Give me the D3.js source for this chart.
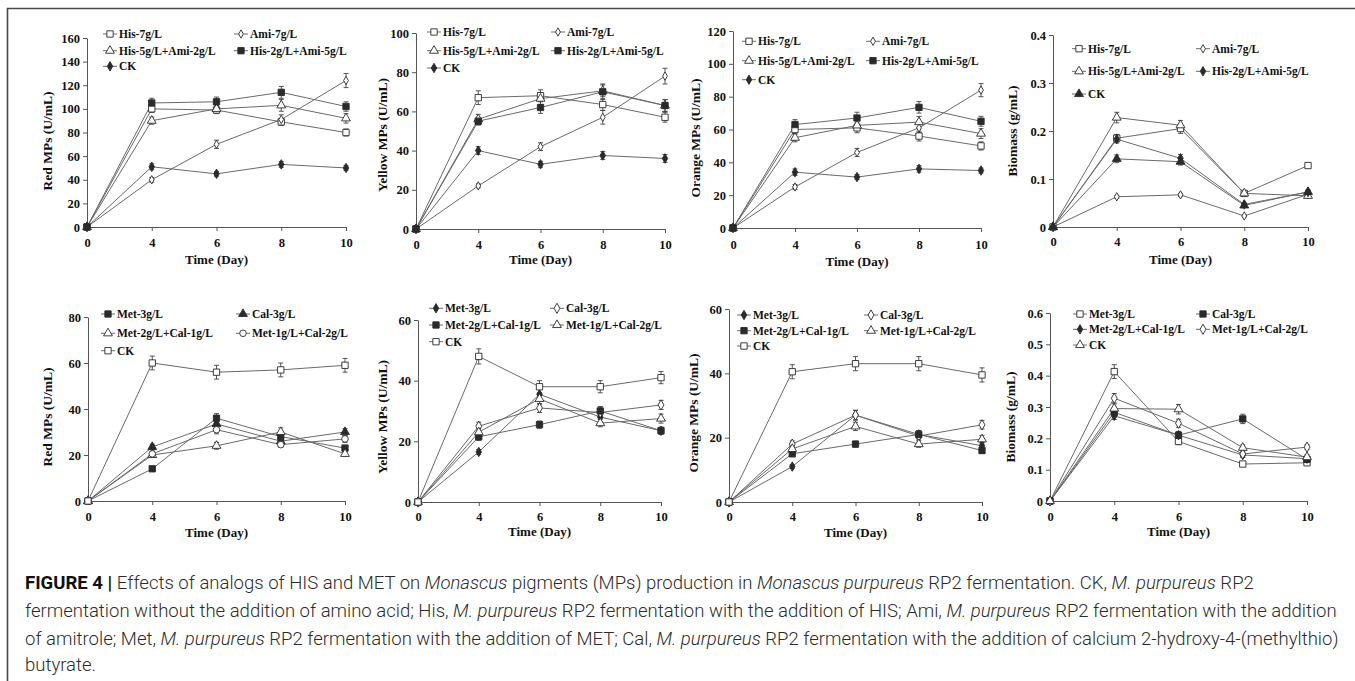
<!DOCTYPE html>
<html>
<head>
<meta charset="utf-8">
<script src="https://cdn.jsdelivr.net/npm/d3@7"></script>
<style>
  html, body { margin: 0; padding: 0; background: #fff; }
  svg { display: block; }
</style>
</head>
<body>
<svg id="fig" width="1355" height="681"></svg>
<script>
// ---------- data ----------
const days = ["0", "4", "6", "8", "10"];

const hisAmiNames = ["His-7g/L", "Ami-7g/L", "His-5g/L+Ami-2g/L", "His-2g/L+Ami-5g/L", "CK"];
const metCalNames = ["Met-3g/L", "Cal-3g/L", "Met-2g/L+Cal-1g/L", "Met-1g/L+Cal-2g/L", "CK"];

// Red MPs (U/mL), His / Ami treatments
const redHisAmi = [
  [0, 100, 99, 89, 80],
  [0, 40, 70, 91, 124],
  [0, 90, 100, 103, 92],
  [0, 105, 106, 114, 102],
  [0, 51, 45, 53, 50]
];
const redHisAmiErr = [
  [0, 3, 3, 3, 3],
  [0, 2, 3.5, 4, 6],
  [0, 3, 3, 5, 4],
  [0, 4, 4, 5, 4],
  [0, 2.5, 2, 2.5, 2]
];

// Yellow MPs (U/mL), His / Ami treatments
const yellowHisAmi = [
  [0, 67, 68, 63.5, 57],
  [0, 22, 42, 57, 78],
  [0, 56, 66.5, 70.5, 63],
  [0, 55, 62, 70, 63],
  [0, 40, 33, 37.5, 36]
];
const yellowHisAmiErr = [
  [0, 3.5, 3, 3, 2.5],
  [0, 1, 2, 3.5, 4],
  [0, 2.5, 3, 3, 3],
  [0, 2, 3, 4, 3],
  [0, 2, 1.5, 2, 2]
];

// Orange MPs (U/mL), His / Ami treatments
const orangeHisAmi = [
  [0, 60, 61, 56, 50],
  [0, 25, 46, 61, 84],
  [0, 55, 62.5, 64.5, 57.5],
  [0, 63, 67, 73.5, 65],
  [0, 34, 31, 36, 35]
];
const orangeHisAmiErr = [
  [0, 3, 3, 3, 2.5],
  [0, 1.5, 2.5, 3, 4],
  [0, 2.5, 3, 3.5, 3],
  [0, 3, 3.5, 3.5, 3],
  [0, 2, 1.5, 2, 1.5]
];

// Biomass (g/mL), His / Ami treatments
const biomassHisAmi = [
  [0, 0.185, 0.205, 0.07, 0.128],
  [0, 0.063, 0.067, 0.023, 0.068],
  [0, 0.228, 0.212, 0.07, 0.065],
  [0, 0.183, 0.143, 0.047, 0.073],
  [0, 0.142, 0.136, 0.045, 0.073]
];
const biomassHisAmiErr = [
  [0, 0.008, 0.01, 0.004, 0.005],
  [0, 0.003, 0.003, 0.002, 0.003],
  [0, 0.011, 0.01, 0.004, 0.004],
  [0, 0.008, 0.008, 0.003, 0.004],
  [0, 0.008, 0.007, 0.003, 0.004]
];

// Red MPs (U/mL), Met / Cal treatments
const redMetCal = [
  [0, 14, 36, 28, 23],
  [0, 23.5, 33.5, 26, 30],
  [0, 20, 24, 30, 20.5],
  [0, 20.5, 31, 24.5, 27],
  [0, 60, 56, 57, 59]
];
const redMetCalErr = [
  [0, 0.8, 2, 1.5, 1.2],
  [0, 1.2, 2, 1.5, 1.5],
  [0, 1, 1.5, 1.8, 1],
  [0, 1.2, 1.8, 1.2, 1.5],
  [0, 3, 3, 3, 3]
];

// Yellow MPs (U/mL), Met / Cal treatments
const yellowMetCal = [
  [0, 16.5, 35.5, 28, 23.5],
  [0, 25, 31, 29.5, 32],
  [0, 21.5, 25.5, 30, 23.5],
  [0, 23, 34, 26, 27.5],
  [0, 48, 38, 38, 41]
];
const yellowMetCalErr = [
  [0, 0.8, 1.8, 1.5, 1],
  [0, 1.3, 1.5, 1.8, 1.5],
  [0, 1.2, 1.2, 1.5, 1.2],
  [0, 1.2, 1.8, 1.2, 1.5],
  [0, 2.5, 2, 2, 2]
];

// Orange MPs (U/mL), Met / Cal treatments
const orangeMetCal = [
  [0, 11, 27, 21, 17.5],
  [0, 18, 27, 20.5, 24],
  [0, 15, 18, 21, 16],
  [0, 16.5, 23.5, 18, 19.5],
  [0, 40.5, 43, 43, 39.5]
];
const orangeMetCalErr = [
  [0, 0.6, 1.5, 1.2, 1],
  [0, 1, 1.5, 1.2, 1.3],
  [0, 0.9, 0.9, 1.2, 0.9],
  [0, 1, 1.3, 1, 1.2],
  [0, 2.2, 2.2, 2.2, 2.2]
];

// Biomass (g/mL), Met / Cal treatments
const biomassMetCal = [
  [0, 0.413, 0.19, 0.118, 0.122],
  [0, 0.283, 0.21, 0.262, 0.133],
  [0, 0.272, 0.21, 0.147, 0.135],
  [0, 0.328, 0.248, 0.15, 0.172],
  [0, 0.295, 0.293, 0.17, 0.14]
];
const biomassMetCalErr = [
  [0, 0.022, 0.01, 0.006, 0.006],
  [0, 0.015, 0.012, 0.015, 0.008],
  [0, 0.012, 0.01, 0.008, 0.007],
  [0, 0.015, 0.013, 0.009, 0.008],
  [0, 0.015, 0.015, 0.009, 0.008]
];

// ---------- panel layout ----------
const fmtInt = d3.format("d");
const fmtDec = v => (v === 0 ? "0" : d3.format(".1f")(v));

const panels = [
  { values: redHisAmi, errors: redHisAmiErr, names: hisAmiNames,
    marks: ["sqOpen", "diaOpenSmall", "triOpen", "sqFill", "diaFill"],
    yMax: 160, yStep: 20, fmt: fmtInt, yTitle: "Red MPs (U/mL)",
    x0: 87, x1: 346, yTop: 38, yBot: 227, tickY: 242, titleY: 259, yTitleX: 47, yTitleY: 141,
    leg: { c1: 110, c2: 241, rows: [34, 50.7, 66.3] } },
  { values: yellowHisAmi, errors: yellowHisAmiErr, names: hisAmiNames,
    marks: ["sqOpen", "diaOpenSmall", "triOpen", "sqFill", "diaFill"],
    yMax: 100, yStep: 20, fmt: fmtInt, yTitle: "Yellow MPs (U/mL)",
    x0: 416, x1: 665, yTop: 33, yBot: 229, tickY: 244, titleY: 259, yTitleX: 382, yTitleY: 135,
    leg: { c1: 434, c2: 558, rows: [32, 50.7, 68] } },
  { values: orangeHisAmi, errors: orangeHisAmiErr, names: hisAmiNames,
    marks: ["sqOpen", "diaOpenSmall", "triOpen", "sqFill", "diaFill"],
    yMax: 120, yStep: 20, fmt: fmtInt, yTitle: "Orange MPs (U/mL)",
    x0: 733, x1: 981, yTop: 31, yBot: 228, tickY: 244, titleY: 261, yTitleX: 695, yTitleY: 138,
    leg: { c1: 749, c2: 873, rows: [41.3, 60.7, 79.7] } },
  { values: biomassHisAmi, errors: biomassHisAmiErr, names: hisAmiNames,
    marks: ["sqOpen", "diaOpenSmall", "triOpen", "diaFill", "triFill"],
    yMax: 0.4, yStep: 0.1, fmt: fmtDec, yTitle: "Biomass (g/mL)",
    x0: 1053, x1: 1308, yTop: 35, yBot: 227, tickY: 241, titleY: 259, yTitleX: 1012, yTitleY: 131,
    leg: { c1: 1079, c2: 1203, rows: [48.7, 71.3, 94] } },
  { values: redMetCal, errors: redMetCalErr, names: metCalNames,
    marks: ["sqFill", "triFill", "triOpen", "circOpen", "sqOpen"],
    yMax: 80, yStep: 20, fmt: fmtInt, yTitle: "Red MPs (U/mL)",
    x0: 88, x1: 345, yTop: 317, yBot: 501, tickY: 516, titleY: 532, yTitleX: 47, yTitleY: 417,
    leg: { c1: 108, c2: 243, rows: [314, 333.3, 350.7] } },
  { values: yellowMetCal, errors: yellowMetCalErr, names: metCalNames,
    marks: ["diaFill", "diaOpen", "sqFill", "triOpen", "sqOpen"],
    yMax: 60, yStep: 20, fmt: fmtInt, yTitle: "Yellow MPs (U/mL)",
    x0: 418, x1: 661, yTop: 320, yBot: 502, tickY: 516, titleY: 531, yTitleX: 382, yTitleY: 417,
    leg: { c1: 436, c2: 557, rows: [308.3, 325, 341.7] } },
  { values: orangeMetCal, errors: orangeMetCalErr, names: metCalNames,
    marks: ["diaFill", "diaOpen", "sqFill", "triOpen", "sqOpen"],
    yMax: 60, yStep: 20, fmt: fmtInt, yTitle: "Orange MPs (U/mL)",
    x0: 729, x1: 982, yTop: 309, yBot: 502, tickY: 516, titleY: 532, yTitleX: 693, yTitleY: 413,
    leg: { c1: 744, c2: 871, rows: [315, 330.7, 346] } },
  { values: biomassMetCal, errors: biomassMetCalErr, names: metCalNames,
    marks: ["sqOpen", "sqFill", "diaFill", "diaOpen", "triOpen"],
    yMax: 0.6, yStep: 0.1, fmt: fmtDec, yTitle: "Biomass (g/mL)",
    x0: 1050, x1: 1307, yTop: 313, yBot: 501, tickY: 516, titleY: 531, yTitleX: 1010, yTitleY: 417,
    leg: { c1: 1080, c2: 1203, rows: [314, 329.3, 345] } }
];

// ---------- styles ----------
const serif = "'Liberation Serif', 'Times New Roman', serif";
const lineColor = "#6a6a6a";
const markColor = "#2a2a2a";
const axisColor = "#555";

const markerDefs = {
  sqOpen:       { type: d3.symbolSquare,   size: 40, fill: "#fff" },
  sqFill:       { type: d3.symbolSquare,   size: 40, fill: markColor },
  diaOpen:      { type: d3.symbolDiamond,  size: 30, fill: "#fff" },
  diaOpenSmall: { type: d3.symbolDiamond,  size: 20, fill: "#fff" },
  diaFill:      { type: d3.symbolDiamond,  size: 26, fill: markColor },
  triOpen:      { type: d3.symbolTriangle, size: 34, fill: "#fff" },
  triFill:      { type: d3.symbolTriangle, size: 34, fill: markColor },
  circOpen:     { type: d3.symbolCircle,   size: 34, fill: "#fff" }
};

const svg = d3.select("#fig");

// frame of the figure block
svg.append("path")
  .attr("d", "M1355,8.5H7.5V681")
  .attr("fill", "none")
  .attr("stroke", "#4a4a4a")
  .attr("stroke-width", 1.6);

function drawMarker(g, key, x, y) {
  const m = markerDefs[key];
  g.append("path")
    .attr("d", d3.symbol().type(m.type).size(m.size)())
    .attr("transform", `translate(${x},${y})`)
    .attr("fill", m.fill)
    .attr("stroke", markColor)
    .attr("stroke-width", 0.9);
}

panels.forEach(p => {
  const g = svg.append("g");
  const x = d3.scalePoint().domain(days).range([p.x0, p.x1]);
  const y = d3.scaleLinear().domain([0, p.yMax]).range([p.yBot, p.yTop]);
  const ticks = d3.range(0, p.yMax + p.yStep / 2, p.yStep);

  // y axis
  const yAxis = g.append("g")
    .attr("transform", `translate(${p.x0},0)`)
    .call(d3.axisLeft(y).tickValues(ticks).tickFormat(p.fmt).tickSize(4).tickSizeOuter(0).tickPadding(3));
  // x axis
  const xPad = p.tickY - p.yBot - 4 - 4.3;
  const xAxis = g.append("g")
    .attr("transform", `translate(0,${p.yBot})`)
    .call(d3.axisBottom(x).tickSize(4).tickSizeOuter(0).tickPadding(xPad));

  [yAxis, xAxis].forEach(a => {
    a.select(".domain").attr("stroke", axisColor).attr("stroke-width", 1);
    a.selectAll(".tick line").attr("stroke", axisColor).attr("stroke-width", 1);
    a.selectAll(".tick text")
      .attr("fill", "#111")
      .style("font-family", serif)
      .style("font-weight", "bold")
      .style("font-size", "12.5px");
  });

  // axis titles
  g.append("text")
    .attr("x", (p.x0 + p.x1) / 2)
    .attr("y", p.titleY)
    .attr("dy", "0.35em")
    .attr("text-anchor", "middle")
    .style("font-family", serif).style("font-weight", "bold").style("font-size", "13px")
    .attr("fill", "#111")
    .text("Time (Day)");
  g.append("text")
    .attr("transform", `translate(${p.yTitleX},${p.yTitleY}) rotate(-90)`)
    .attr("dy", "0.35em")
    .attr("text-anchor", "middle")
    .style("font-family", serif).style("font-weight", "bold").style("font-size", "13.5px")
    .attr("fill", "#111")
    .text(p.yTitle);

  // series lines
  const line = d3.line().x((d, i) => x(days[i])).y(d => y(d));
  p.values.forEach(vals => {
    g.append("path")
      .attr("d", line(vals))
      .attr("fill", "none")
      .attr("stroke", lineColor)
      .attr("stroke-width", 1);
  });

  // error bars
  p.values.forEach((vals, s) => {
    vals.forEach((v, i) => {
      const e = p.errors[s][i];
      if (!e) return;
      const cx = x(days[i]);
      const ya = y(v - e), yb = y(v + e);
      g.append("line").attr("x1", cx).attr("x2", cx).attr("y1", ya).attr("y2", yb)
        .attr("stroke", "#444").attr("stroke-width", 0.9);
      [ya, yb].forEach(yy => {
        g.append("line").attr("x1", cx - 2.5).attr("x2", cx + 2.5).attr("y1", yy).attr("y2", yy)
          .attr("stroke", "#444").attr("stroke-width", 0.9);
      });
    });
  });

  // markers
  p.values.forEach((vals, s) => {
    vals.forEach((v, i) => drawMarker(g, p.marks[s], x(days[i]), y(v)));
  });

  // legend: two columns, fifth entry on its own row
  p.names.forEach((name, s) => {
    const cx = s % 2 === 0 ? p.leg.c1 : p.leg.c2;
    const cy = p.leg.rows[Math.floor(s / 2)];
    g.append("line").attr("x1", cx - 7).attr("x2", cx + 7).attr("y1", cy).attr("y2", cy)
      .attr("stroke", lineColor).attr("stroke-width", 1);
    drawMarker(g, p.marks[s], cx, cy);
    g.append("text")
      .attr("x", cx + 9)
      .attr("y", cy)
      .attr("dy", "0.35em")
      .style("font-family", serif).style("font-weight", "bold").style("font-size", "11.5px")
      .attr("fill", "#111")
      .text(name);
  });
});

// ---------- caption ----------
const captionLines = [
  [["FIGURE 4 | ", "b"], ["Effects of analogs of HIS and MET on ", ""], ["Monascus", "i"],
   [" pigments (MPs) production in ", ""], ["Monascus purpureus", "i"],
   [" RP2 fermentation. CK, ", ""], ["M. purpureus", "i"], [" RP2", ""]],
  [["fermentation without the addition of amino acid; His, ", ""], ["M. purpureus", "i"],
   [" RP2 fermentation with the addition of HIS; Ami, ", ""], ["M. purpureus", "i"],
   [" RP2 fermentation with the addition", ""]],
  [["of amitrole; Met, ", ""], ["M. purpureus", "i"],
   [" RP2 fermentation with the addition of MET; Cal, ", ""], ["M. purpureus", "i"],
   [" RP2 fermentation with the addition of calcium 2-hydroxy-4-(methylthio)", ""]],
  [["butyrate.", ""]]
];
const captionY = [583, 611, 638.5, 665];
const capTexts = captionLines.map((parts, li) => {
  const t = svg.append("text")
    .attr("y", 0)
    .attr("dy", "0.35em")
    .style("font-family", "Roboto, 'Liberation Sans', sans-serif")
    .style("font-size", "17.5px")
    .style("font-weight", "300")
    .attr("fill", "#2b2b2b");
  parts.forEach(([txt, st]) => {
    const ts = t.append("tspan").text(txt);
    if (st === "b") ts.style("font-weight", "bold").attr("fill", "#111");
    if (st === "i") ts.style("font-style", "italic");
  });
  return t;
});
// fit the widest full line to the text block width and apply the same squeeze to all lines
const natural = capTexts[1].node().getComputedTextLength();
const sx = (1338 - 25) / natural;
capTexts.forEach((t, li) => t.attr("transform", `translate(25,${captionY[li]}) scale(${sx},1)`));
</script>
</body>
</html>
